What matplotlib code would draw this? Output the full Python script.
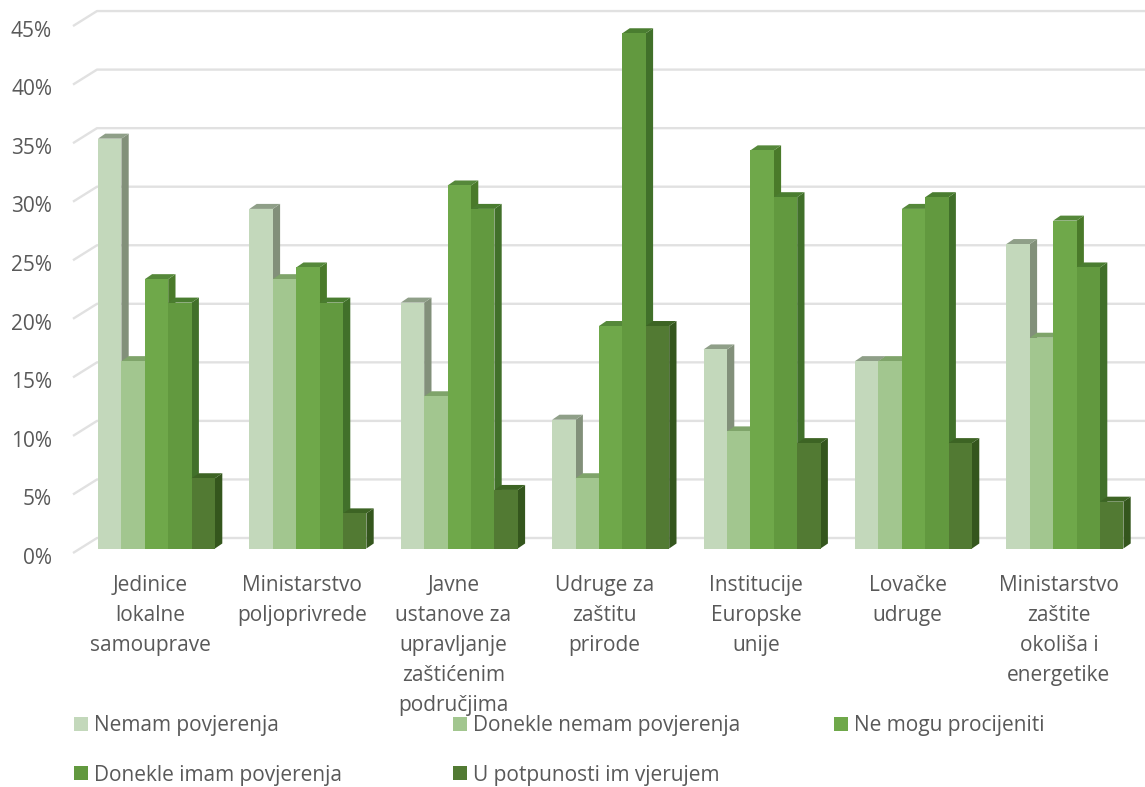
import numpy as np
import matplotlib
matplotlib.use('Agg')
import matplotlib.pyplot as plt
from matplotlib.patches import Polygon, Rectangle

plt.rcParams['font.family'] = ['Open Sans', 'DejaVu Sans']

# Data
categories = ['Jedinice\nlokalne\nsamouprave', 'Ministarstvo\npoljoprivrede',
              'Javne\nustanove za\nupravljanje\nzaštićenim\npodručjima',
              'Udruge za\nzaštitu\nprirode', 'Institucije\nEuropske\nunije',
              'Lovačke\nudruge', 'Ministarstvo\nzaštite\nokoliša i\nenergetike']
nemam = [35, 29, 21, 11, 17, 16, 26]
donekle_nemam = [16, 23, 13, 6, 10, 16, 18]
ne_mogu = [23, 24, 31, 19, 34, 29, 28]
donekle_imam = [21, 21, 29, 44, 30, 30, 24]
u_potpunosti = [6, 3, 5, 19, 9, 9, 4]
y_ticks = [0, 5, 10, 15, 20, 25, 30, 35, 40, 45]

series = [nemam, donekle_nemam, ne_mogu, donekle_imam, u_potpunosti]
names = ['Nemam povjerenja', 'Donekle nemam povjerenja', 'Ne mogu procijeniti',
         'Donekle imam povjerenja', 'U potpunosti im vjerujem']
faces = ['#c3d8bb', '#a2c68f', '#6fa84a', '#62993f', '#527a33']
sides = ['#82907a', '#6f8f5c', '#4a7a2a', '#41702a', '#34561d']
tops = ['#8f9f88', '#7fa46a', '#55883a', '#4a7d30', '#3d6424']

W, H = 1145, 787
PX_X = 151.4          # pixels per category
PX_Y = 11.71          # pixels per percent
X0, Y0 = 80.8, 548.5  # pixel position of the front plane origin
BAR_W = 23.4 / PX_X
DX, DY = 7.3 / PX_X, 5 / PX_Y  # depth of a bar
FONT = 15

fig = plt.figure(figsize=(W / 100, H / 100), dpi=100)
ax = fig.add_axes([X0 / W, 1 - Y0 / H, 7 * PX_X / W, 45 * PX_Y / H])
ax.set_xlim(0, 7)
ax.set_ylim(0, 45)
ax.axis('off')

# back wall and side wall gridlines
for v in y_ticks:
    ax.plot([-7.8 / PX_X, 16.2 / PX_X, 1.03 * 7], [v - 4.5 / PX_Y, v + 10.5 / PX_Y, v + 10.5 / PX_Y],
            color='#e1e1e1', lw=1.7, clip_on=False, zorder=1, solid_capstyle='butt')
    ax.annotate(f'{v}%', (0, v), xytext=(-20.7, -7), textcoords='offset points',
                ha='right', va='center', fontsize=FONT, color='#595959', annotation_clip=False)

# bars, left to right so each front covers the side of the one before
centers = np.arange(7) + 0.5
z = 2
for i, c in enumerate(centers):
    for j, s in enumerate(series):
        left = c + (j - 2.5) * BAR_W
        right = left + BAR_W
        v = s[i]
        ax.add_patch(Polygon([(right, 0), (right + DX, DY), (right + DX, v + DY), (right, v)],
                             fc=sides[j], ec='none', zorder=z))
        ax.add_patch(Polygon([(left, v), (left + DX, v + DY), (right + DX, v + DY), (right, v)],
                             fc=tops[j], ec='none', zorder=z))
        ax.bar(left, v, width=BAR_W, align='edge', color=faces[j], lw=0, zorder=z + 1)
        z += 2

for c, label in zip(centers, categories):
    ax.annotate(label, (c, 0), xytext=(-4.3, -19), textcoords='offset points',
                ha='center', va='top', fontsize=FONT, color='#595959', linespacing=1.57,
                annotation_clip=False)

# legend laid out by hand to keep the row order of the original
leg_x = [74, 453, 834, 74, 453]
leg_y = [724, 724, 724, 773, 773]
for name, col, lx, ly in zip(names, faces, leg_x, leg_y):
    fig.add_artist(Rectangle((lx / W, 1 - (ly + 7) / H), 14 / W, 14 / H, fc=col, ec='none',
                             transform=fig.transFigure))
    fig.text((lx + 20) / W, 1 - (ly + 2) / H, name, ha='left', va='center', fontsize=FONT, color='#595959')

fig.savefig('out.png', dpi=100)
